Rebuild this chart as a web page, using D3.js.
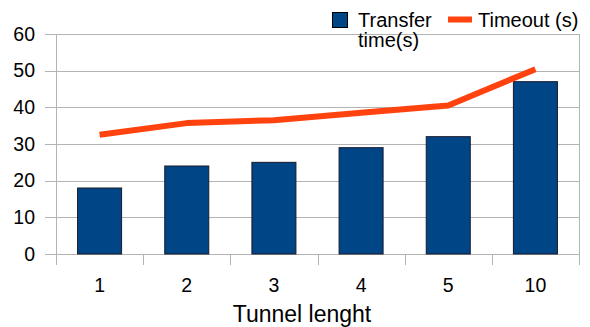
<!DOCTYPE html>
<html>
<head>
<meta charset="utf-8">
<script src="https://cdn.jsdelivr.net/npm/d3@7"></script>
<style>
  html, body { margin: 0; padding: 0; background: #fff; }
  svg { display: block; font-family: "Liberation Sans", Arial, sans-serif; }
</style>
</head>
<body>
<svg id="chart" width="590" height="327"></svg>
<script>
const categories = ["1", "2", "3", "4", "5", "10"];
const transferTime = [18, 24, 25, 29, 32, 47];
const timeout = [32.5, 35.7, 36.5, 38.5, 40.5, 50.4];
const yTicks = [0, 10, 20, 30, 40, 50, 60];
const seriesNames = ["Transfer time(s)", "Timeout (s)"];
const xTitle = "Tunnel lenght";

const svg = d3.select("#chart");
const m = { left: 56, right: 579, top: 34, bottom: 254 };

const x = d3.scaleBand().domain(categories).range([m.left, m.right]).paddingInner(0).paddingOuter(0);
const y = d3.scaleLinear().domain([0, 60]).range([m.bottom, m.top]);

const gridColor = "#b3b3b3";

// gridlines
svg.append("g").selectAll("line").data(yTicks).join("line")
  .attr("x1", m.left - 11).attr("x2", m.right)
  .attr("y1", d => Math.round(y(d)) + 0.5).attr("y2", d => Math.round(y(d)) + 0.5)
  .attr("stroke", gridColor).attr("stroke-width", 1);

// y axis line
svg.append("line").attr("x1", m.left + 0.5).attr("x2", m.left + 0.5)
  .attr("y1", m.top).attr("y2", m.bottom + 11)
  .attr("stroke", gridColor);
// right border
svg.append("line").attr("x1", m.right + 0.5).attr("x2", m.right + 0.5)
  .attr("y1", m.top).attr("y2", m.bottom + 11)
  .attr("stroke", gridColor);

// x ticks at band boundaries
const bounds = categories.map(c => x(c)).concat([m.right]);
svg.append("g").selectAll("line").data(bounds).join("line")
  .attr("x1", d => Math.round(d) + 0.5).attr("x2", d => Math.round(d) + 0.5)
  .attr("y1", m.bottom).attr("y2", m.bottom + 11)
  .attr("stroke", gridColor);

// y tick labels
svg.append("g").selectAll("text").data(yTicks).join("text")
  .attr("x", 35).attr("y", d => y(d)).attr("dy", "0.35em")
  .attr("text-anchor", "end").attr("font-size", 19.5).attr("fill", "#000")
  .text(d => d);

// x tick labels
svg.append("g").selectAll("text").data(categories).join("text")
  .attr("x", d => x(d) + x.bandwidth() / 2).attr("y", 292)
  .attr("text-anchor", "middle").attr("font-size", 19.5).attr("fill", "#000")
  .text(d => d);

// x title
svg.append("text").attr("x", 302).attr("y", 322)
  .attr("text-anchor", "middle").attr("font-size", 23).attr("fill", "#000")
  .text(xTitle);

// bars
const bw = x.bandwidth() * 0.505;
svg.append("g").selectAll("rect").data(transferTime).join("rect")
  .attr("x", (d, i) => x(categories[i]) + (x.bandwidth() - bw) / 2)
  .attr("y", d => y(d))
  .attr("width", bw)
  .attr("height", d => y(0) - y(d))
  .attr("fill", "#004586")
  .attr("stroke", "#1a1a2a").attr("stroke-width", 1);

// line
const line = d3.line()
  .x((d, i) => x(categories[i]) + x.bandwidth() / 2)
  .y(d => y(d));
svg.append("path").datum(timeout)
  .attr("d", line)
  .attr("fill", "none").attr("stroke", "#ff420e").attr("stroke-width", 6)
  .attr("stroke-linejoin", "round").attr("stroke-linecap", "butt");

// legend
const lg = svg.append("g");
lg.append("rect").attr("x", 332.5).attr("y", 12.5).attr("width", 15).attr("height", 15)
  .attr("fill", "#004586").attr("stroke", "#000").attr("stroke-width", 1);
const t1 = lg.append("text").attr("font-size", 20).attr("fill", "#000");
t1.append("tspan").attr("x", 358).attr("y", 27).text(seriesNames[0].split(" ")[0]);
t1.append("tspan").attr("x", 358).attr("y", 47).text(seriesNames[0].split(" ")[1]);
lg.append("line").attr("x1", 448).attr("x2", 472).attr("y1", 19.5).attr("y2", 19.5)
  .attr("stroke", "#ff420e").attr("stroke-width", 6);
lg.append("text").attr("x", 478).attr("y", 27).attr("font-size", 20).attr("fill", "#000")
  .text(seriesNames[1]);
</script>
</body>
</html>
